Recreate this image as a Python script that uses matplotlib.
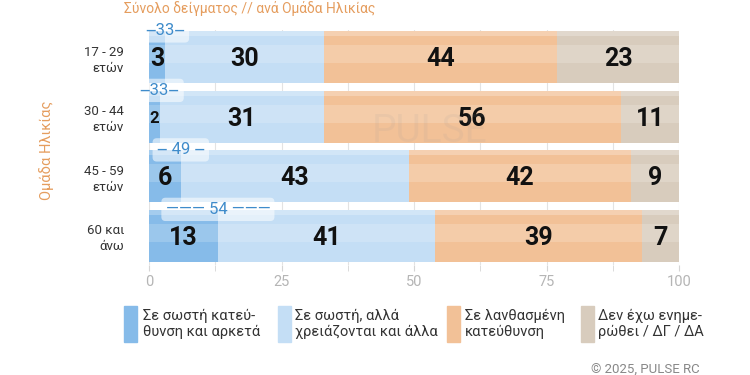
import matplotlib
matplotlib.use("Agg")
import matplotlib.pyplot as plt
import numpy as np

categories = ["17 - 29\nετών", "30 - 44\nετών", "45 - 59\nετών", "60 και\nάνω"]
series_names = ["Σε σωστή κατεύ-\nθυνση και αρκετά",
                "Σε σωστή, αλλά\nχρειάζονται και άλλα",
                "Σε λανθασμένη\nκατεύθυνση",
                "Δεν έχω ενημε-\nρώθει / ΔΓ / ΔΑ"]
correct_enough = [3, 2, 6, 13]
correct_more = [30, 31, 43, 41]
wrong = [44, 56, 42, 39]
dk = [23, 11, 9, 7]
xticks = [0, 25, 50, 75, 100]
title = "Σύνολο δείγματος // ανά Ομάδα Ηλικίας"
ylabel = "Ομάδα Ηλικίας"

colors = ["#86bbe9", "#c4def5", "#f2c197", "#d8ccbd"]
plt.rcParams['font.family'] = ["Roboto", "DejaVu Sans"]

fig = plt.figure(figsize=(7.5, 3.75), dpi=100)
ax = fig.add_axes([149/750, 110/375, 530/750, 235/375])

series = [correct_enough, correct_more, wrong, dk]
y = np.arange(len(categories))
h = 0.87
left = np.zeros(len(categories))
for vals, c in zip(series, colors):
    v = np.array(vals, dtype=float)
    ax.barh(y, v, left=left, height=h, color=c, edgecolor='none', zorder=2)
    # subtle highlight bands
    ax.barh(y - 0.05, v, left=left, height=h*0.35, color='white', alpha=0.18, edgecolor='none', zorder=2.1)
    ax.barh(y - h/2 + 0.04, v, left=left, height=0.08, color='white', alpha=0.25, edgecolor='none', zorder=2.1)
    for i, val in enumerate(vals):
        fs = 18 if val >= 3 else 12
        ax.text(left[i] + val/2, y[i] + 0.03, str(val), ha='center', va='center',
                fontsize=fs, fontweight='bold', color='#111111', zorder=4)
    left += v

# totals of positive answers
dash_fmt = ["‒{}‒", "‒{}‒", "‒ {} ‒", "——— {} ———"]
for i in range(len(categories)):
    tot = correct_enough[i] + correct_more[i]
    ax.text(correct_enough[i], y[i] - h/2 - 0.01, dash_fmt[i].format(tot), ha='center', va='center',
            fontsize=12, color='#3f8ccb', zorder=5, clip_on=False,
            bbox=dict(boxstyle='round,pad=0.25', fc='white', ec='none', alpha=0.55))

ax.set_xlim(0, 100)
ax.set_ylim(3.49, -0.46)
ax.set_xticks(xticks)
ax.set_xticks(np.arange(0, 101, 12.5), minor=True)
ax.grid(axis='x', which='both', color='#e3e3e3', lw=0.8, zorder=0)
ax.set_axisbelow(True)
ax.tick_params(axis='x', which='both', length=4, color='#d5d5d5', labelsize=10.5,
               labelcolor='#b5b5b5', pad=3)
ax.set_yticks(y)
ax.set_yticklabels(categories, fontsize=9.5, color='#333333', linespacing=1.3, ha='right')
ax.tick_params(axis='y', length=0, pad=18)
for s in ax.spines.values():
    s.set_visible(False)

fig.text(250/750, 1 - 9/375, title, ha='center', va='center', fontsize=10, color='#e59d5e')
fig.text(47/750, 1 - 150/375, ylabel, ha='center', va='center', rotation=90, fontsize=10.5, color='#e59d5e')

# watermark
fig.text(430/750, 1 - 132/375, "PULSE", ha='center', va='center', fontsize=28, color='#999999', alpha=0.1, zorder=10)

# legend
sq_x = [124, 278, 447, 581]
tx_x = [143, 295, 465, 598]
for i, (name, c) in enumerate(zip(series_names, colors)):
    fig.patches.append(matplotlib.patches.Rectangle((sq_x[i]/750, 1 - 342/375), 13/750, 36/375,
                                                   transform=fig.transFigure, color=c, zorder=3))
    fig.text(tx_x[i]/750, 1 - 324/375, name, ha='left', va='center', fontsize=10.5, color='#333333', linespacing=1.15)

fig.text(700/750, 1 - 370/375, "© 2025, PULSE RC", ha='right', va='center', fontsize=9.5, color='#888888')

fig.savefig("out.png", dpi=100)
